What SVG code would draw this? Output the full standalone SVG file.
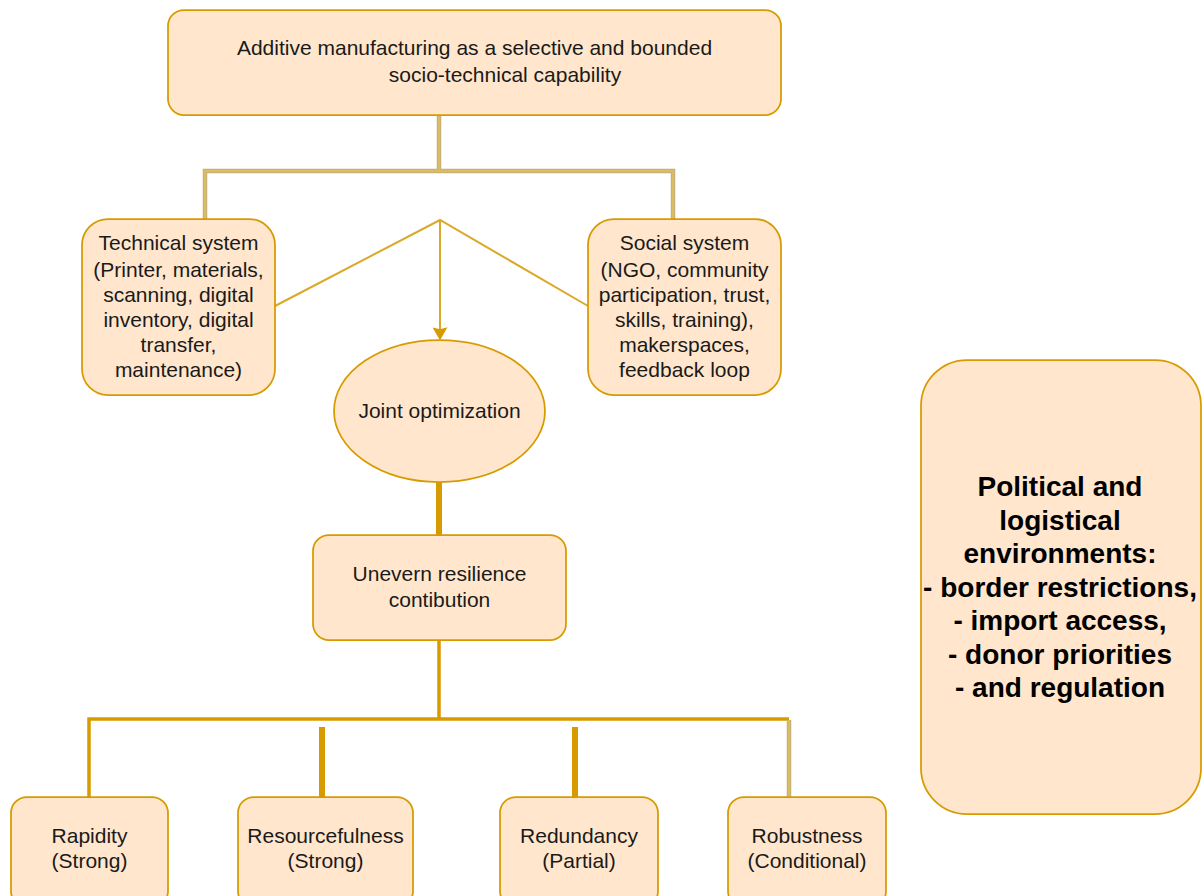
<svg xmlns="http://www.w3.org/2000/svg" width="1203" height="896" viewBox="0 0 1203 896">
<defs>
<style>
.node{fill:#ffe6cc;stroke:#d79b00;stroke-width:1.75}
.t{font-family:"Liberation Sans",Arial,sans-serif;font-size:21px;fill:#1a1a1a;text-anchor:middle}
.tb{font-family:"Liberation Sans",Arial,sans-serif;font-size:28px;font-weight:bold;fill:#000;text-anchor:middle}
.gold{fill:none;stroke:#d79b00}
.outer{fill:none;stroke:#bfae80;stroke-width:4.5}
.inner{fill:none;stroke:#dcbc5e;stroke-width:2.5}
.thin{fill:none;stroke:#dba828;stroke-width:2}
</style>
<marker id="arr" viewBox="0 0 10 10" refX="9" refY="5" markerWidth="6.5" markerHeight="7.5" markerUnits="strokeWidth" orient="auto" preserveAspectRatio="none">
<path d="M0,0 L10,5 L0,10 L1.5,5 Z" fill="#d79b00"/>
</marker>
</defs>
<rect width="1203" height="896" fill="#ffffff"/>
<g id="connectors">
<path class="outer" d="M439,115 V171 M205,219 V171 H673 V219"/>
<path class="inner" d="M439,115 V171 M205,219 V171 H673 V219"/>
<path class="thin" d="M275,306 L440,220 L588,306"/>
<path class="thin" d="M440,220 V339" marker-end="url(#arr)"/>
<path class="gold" stroke-width="6" d="M439,482 V535"/>
<path class="gold" stroke-width="3.5" d="M439,640 V719 M89,797 V719 H789"/>
<path class="outer" d="M789,720 V797"/>
<path class="inner" d="M789,720 V797"/>
<path class="gold" stroke-width="6" d="M322,727 V797 M575,727 V797"/>
</g>
<g id="top">
<rect class="node" x="168" y="10" width="613" height="105" rx="16"/>
<text class="t" x="474.5" y="55">Additive manufacturing as a selective and bounded</text>
<text class="t" x="505" y="82">socio-technical capability</text>
</g>
<g id="technical">
<rect class="node" x="82" y="219" width="193" height="176" rx="26"/>
<text class="t" x="178.5" y="250">Technical system</text>
<text class="t" x="178.5" y="277">(Printer, materials,</text>
<text class="t" x="178.5" y="302">scanning, digital</text>
<text class="t" x="178.5" y="327">inventory, digital</text>
<text class="t" x="178.5" y="352">transfer,</text>
<text class="t" x="178.5" y="377">maintenance)</text>
</g>
<g id="social">
<rect class="node" x="588" y="219" width="193" height="176" rx="26"/>
<text class="t" x="684.5" y="250">Social system</text>
<text class="t" x="684.5" y="277">(NGO, community</text>
<text class="t" x="684.5" y="302">participation, trust,</text>
<text class="t" x="684.5" y="327">skills, training),</text>
<text class="t" x="684.5" y="352">makerspaces,</text>
<text class="t" x="684.5" y="377">feedback loop</text>
</g>
<g id="joint">
<ellipse class="node" cx="439.5" cy="411" rx="105.5" ry="71"/>
<text class="t" x="439.5" y="418">Joint optimization</text>
</g>
<g id="uneven">
<rect class="node" x="313" y="535" width="253" height="105" rx="16"/>
<text class="t" x="439.5" y="581">Unevern resilience</text>
<text class="t" x="439.5" y="607">contibution</text>
</g>
<g id="rapidity">
<rect class="node" x="11" y="797" width="157" height="110" rx="16"/>
<text class="t" x="89.5" y="843">Rapidity</text>
<text class="t" x="89.5" y="868">(Strong)</text>
</g>
<g id="resourcefulness">
<rect class="node" x="238" y="797" width="175" height="110" rx="16"/>
<text class="t" x="325.5" y="843">Resourcefulness</text>
<text class="t" x="325.5" y="868">(Strong)</text>
</g>
<g id="redundancy">
<rect class="node" x="500" y="797" width="158" height="110" rx="16"/>
<text class="t" x="579" y="843">Redundancy</text>
<text class="t" x="579" y="868">(Partial)</text>
</g>
<g id="robustness">
<rect class="node" x="728" y="797" width="158" height="110" rx="16"/>
<text class="t" x="807" y="843">Robustness</text>
<text class="t" x="807" y="868">(Conditional)</text>
</g>
<g id="political">
<rect class="node" x="921" y="360" width="280" height="454" rx="46"/>
<text class="tb" x="1060" y="496">Political and</text>
<text class="tb" x="1060" y="530">logistical</text>
<text class="tb" x="1060" y="563">environments:</text>
<text class="tb" x="1060" y="597">- border restrictions,</text>
<text class="tb" x="1060" y="630">- import access,</text>
<text class="tb" x="1060" y="664">- donor priorities</text>
<text class="tb" x="1060" y="697">- and regulation</text>
</g>
</svg>
